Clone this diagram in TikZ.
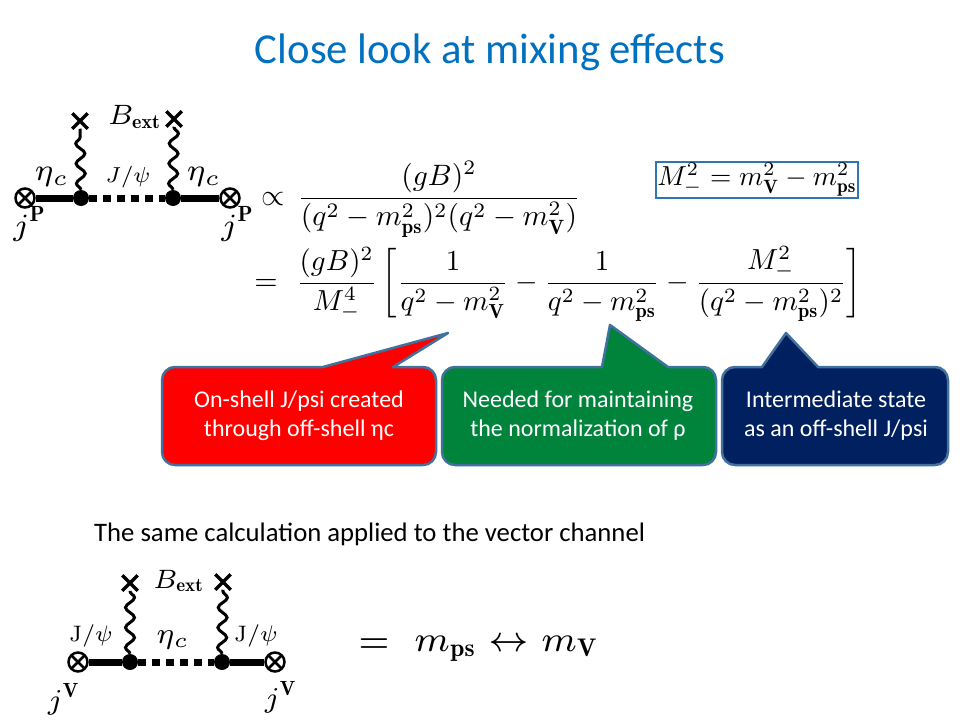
\documentclass[tikz,border=0pt]{standalone}
\usepackage{amsmath}
\usepackage{graphicx}
\usepackage{fontspec}
\newfontfamily\calibri{Carlito}
\usetikzlibrary{decorations.pathmorphing,shapes.misc}
\definecolor{titleblue}{HTML}{0070C0}
\definecolor{boxblue}{HTML}{2E75B6}
\definecolor{cred}{HTML}{FF0000}
\definecolor{cgreen}{HTML}{00843C}
\definecolor{cnavy}{HTML}{002060}
\definecolor{cborder}{HTML}{41719C}
\newcommand\sm[2]{\scalebox{#1}{\fontsize{7}{8}\selectfont$#2$}}
\newcommand\smt[2]{\scalebox{#1}{\fontsize{10}{12}\selectfont$#2$}}
\begin{document}
\begin{tikzpicture}[x=1pt,y=-1pt,
  fermion/.style={line width=7pt},
  scalarline/.style={line width=7pt, dash pattern=on 8pt off 6pt},
  vtx/.style={circle, fill=black, inner sep=0pt, minimum size=16pt},
  cur/.style={circle, draw, line width=2.5pt, fill=white, inner sep=0pt, minimum size=19pt,
    path picture={\draw[line width=2.5pt] (path picture bounding box.north west) -- (path picture bounding box.south east)
      (path picture bounding box.north east) -- (path picture bounding box.south west);}},
  xmark/.style={cross out, draw, line width=3.5pt, inner sep=0pt, minimum size=12pt},
  photon/.style={line width=3pt, decorate, decoration={snake, amplitude=4.5pt, segment length=20pt}},
  lbl/.style={inner sep=0pt},
  calloutbox/.style={draw=cborder, line width=2.5pt, line join=round},
  callouttext/.style={text=white, align=center, font=\calibri\fontsize{24}{29}\selectfont}]
\useasboundingbox (0,0) rectangle (960,720);
\fill[white] (0,0) rectangle (960,720);

% title
\node[anchor=base, inner sep=0pt, text=titleblue, font=\calibri\fontsize{42.7}{50}\selectfont] (title) at (490,63) {Close look at mixing effects};

% ---------- diagram 1 ----------
\node[cur] (c1) at (25,198) {};
\node[vtx] (v1) at (81,198) {};
\node[vtx] (v2) at (173,198) {};
\node[cur] (c2) at (230,198) {};
\node[xmark] (x1) at (80,121) {};
\node[xmark] (x2) at (174,119) {};
\draw[fermion] (c1) -- (v1);
\draw[fermion] (v2) -- (c2);
\draw[scalarline] (v1) -- (v2);
\draw[photon] (v1.north) -- (x1.south);
\draw[photon] (v2.north) -- (x2.south);
\node[lbl] (l1) at (52,177) {\sm{4.4}{\eta_c}};
\node[lbl] (l2) at (128,177) {\sm{3.1}{J/\psi}};
\node[lbl] (l3) at (204,177) {\sm{4.4}{\eta_c}};
\node[lbl] (l4) at (135,117) {\sm{4.0}{B_{\mathbf{ext}}}};
\node[lbl] (l5) at (30,224) {\sm{4.4}{j^{\mathbf{P}}}};
\node[lbl] (l6) at (238,224) {\sm{4.4}{j^{\mathbf{P}}}};

% ---------- equation ----------
\node[lbl, anchor=base] (prop) at (273,205.5) {\smt{3}{\propto}};
\node[lbl, anchor=base] (frac1) at (439,205.5) {\smt{2.95}{\displaystyle\frac{(gB)^2}{(q^2-m_{\mathbf{ps}}^2)^2(q^2-m_{\mathbf{V}}^2)}}};
\node[draw=boxblue, line width=1.5pt, inner sep=1.5pt] (mbox) at (757,180) {\smt{2.75}{M_-^2=m_{\mathbf V}^2-m_{\mathbf{ps}}^2}};
\node[lbl, anchor=base] (eq) at (266,290.5) {\smt{3}{=}};
\node[lbl, anchor=base west] (rhs) at (296,290.5) {\smt{2.9}{\displaystyle\frac{(gB)^2}{M_-^4}\left[\frac{1}{q^2-m_{\mathbf V}^2}-\frac{1}{q^2-m_{\mathbf{ps}}^2}-\frac{M_-^2}{(q^2-m_{\mathbf{ps}}^2)^2}\right]}};

% ---------- callouts ----------
\path[calloutbox, fill=cred] (448,333) -- (393,367) -- (423,367) arc(-90:0:13) -- (436,452) arc(0:90:13)
  -- (175,465) arc(90:180:13) -- (162,380) arc(180:270:13) -- (323,367) -- cycle;
\path[calloutbox, fill=cgreen] (610,325) -- (668,367) -- (703,367) arc(-90:0:13) -- (716,452) arc(0:90:13)
  -- (455,465) arc(90:180:13) -- (442,380) arc(180:270:13) -- (602,367) -- cycle;
\path[calloutbox, fill=cnavy] (786,333) -- (818,367) -- (935,367) arc(-90:0:13) -- (948,452) arc(0:90:13)
  -- (735,465) arc(90:180:13) -- (722,380) arc(180:270:13) -- (762,367) -- cycle;
\node[callouttext] (t1) at (299,416) {On-shell J/psi created\\through off-shell ηc};
\node[callouttext] (t2) at (578,416) {Needed for maintaining\\the normalization of ρ};
\node[callouttext] (t3) at (836,416) {Intermediate state\\as an off-shell J/psi};

% ---------- lower text ----------
\node[anchor=base west, inner sep=0pt, font=\calibri\fontsize{26.7}{32}\selectfont] (sub) at (94,541) {The same calculation applied to the vector channel};

% ---------- diagram 2 ----------
\node[cur] (c3) at (78,662) {};
\node[vtx] (v3) at (130,662) {};
\node[vtx] (v4) at (222,662) {};
\node[cur] (c4) at (275,662) {};
\node[xmark] (x3) at (130,583) {};
\node[xmark] (x4) at (223,582) {};
\draw[fermion] (c3) -- (v3);
\draw[fermion] (v4) -- (c4);
\draw[scalarline] (v3) -- (v4);
\draw[photon] (v3.north) -- (x3.south);
\draw[photon] (v4.north) -- (x4.south);
\node[lbl] (m1) at (91,636) {\sm{3.2}{\mathrm{J}/\psi}};
\node[lbl] (m2) at (173,640) {\sm{4.2}{\eta_c}};
\node[lbl] (m3) at (256,636) {\sm{3.2}{\mathrm{J}/\psi}};
\node[lbl] (m4) at (179,581) {\sm{3.8}{B_{\mathbf{ext}}}};
\node[lbl] (m5) at (64,699) {\sm{4.1}{j^{\mathbf{V}}}};
\node[lbl] (m6) at (281,697) {\sm{4.1}{j^{\mathbf{V}}}};

\node[lbl, anchor=base] (eq2) at (374,652) {\sm{5.1}{=}};
\node[lbl, anchor=base west] (swap) at (414,651) {\sm{5.1}{m_{\mathbf{ps}}\leftrightarrow m_{\mathbf V}}};
\end{tikzpicture}
\end{document}
